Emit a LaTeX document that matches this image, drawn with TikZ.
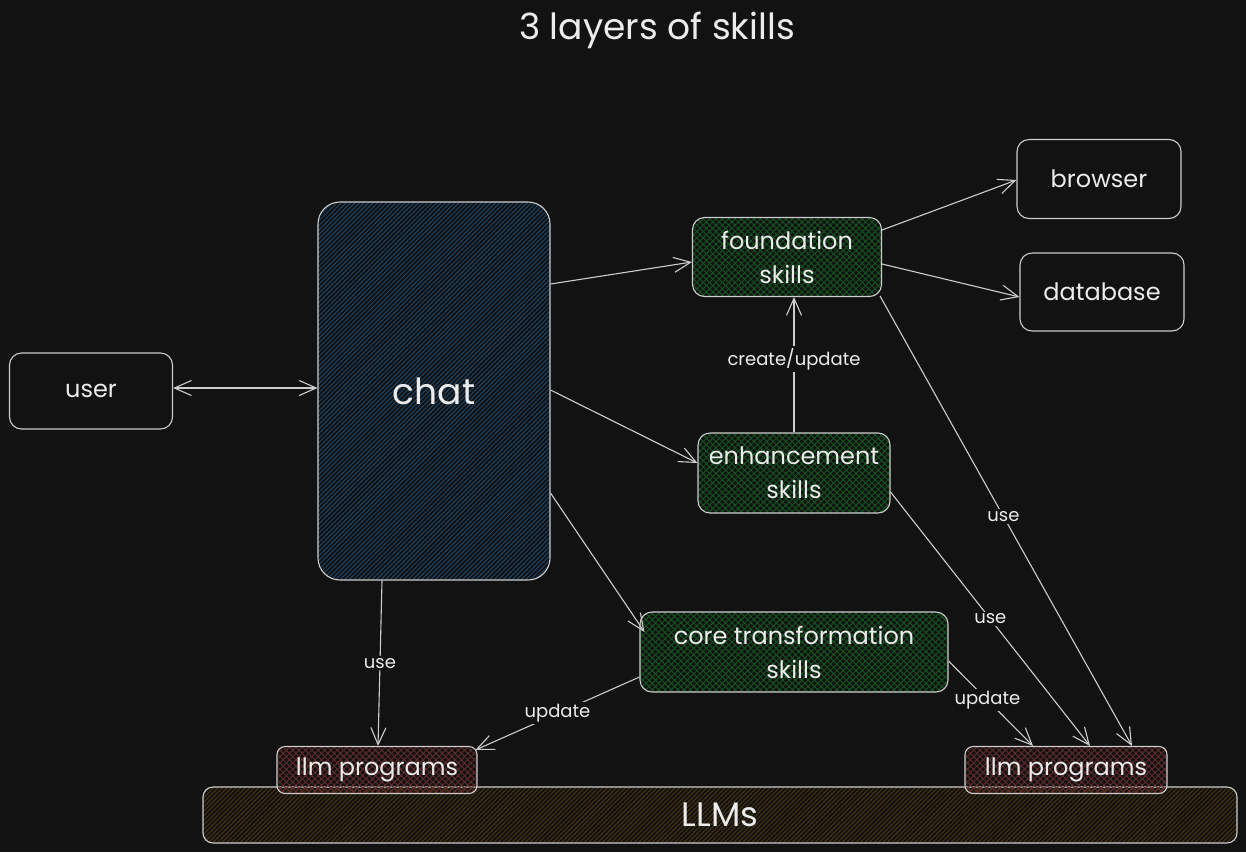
\documentclass[tikz,border=0pt]{standalone}
\usepackage{fontspec}
\setmainfont{Poppins}
\usetikzlibrary{arrows.meta,patterns.meta}
\definecolor{bg}{HTML}{121212}
\definecolor{stroke}{HTML}{CDCDCD}
\definecolor{txt}{HTML}{ECECEC}
\definecolor{chatc}{HTML}{1C4466}
\definecolor{greenc}{HTML}{14521F}
\definecolor{redc}{HTML}{5E2A2A}
\definecolor{brownc}{HTML}{44320E}
\tikzset{
  box/.style={draw=stroke, line width=1.1pt, rounded corners=12pt, text=txt, align=center, inner sep=0pt, font=\fontsize{24}{34}\selectfont},
  hatchone/.style={pattern={Lines[angle=45,distance=3.2pt,line width=1pt]}, pattern color=#1},
  hatchtwo/.style={pattern={Hatch[angle=45,distance=4.5pt,line width=1pt]}, pattern color=#1},
  conn/.style={draw=stroke, line width=1.1pt, -{Straight Barb[length=17pt,width=15pt]}},
  lbl/.style={fill=bg, text=txt, font=\fontsize{18}{20}\selectfont, inner sep=2pt},
}
\begin{document}
\begin{tikzpicture}[x=1pt,y=-1pt]
\fill[bg] (0,0) rectangle (1246,852);
\useasboundingbox (0,0) rectangle (1246,852);
\node[text=txt, font=\fontsize{36}{40}\selectfont] (title) at (657,30) {3 layers of skills};
% nodes
\node[box, minimum width=163pt, minimum height=76pt] (user) at (91,391) {user};
\node[box, hatchone=chatc, rounded corners=22pt, minimum width=232pt, minimum height=378pt, font=\fontsize{36}{40}\selectfont] (chat) at (434,391) {chat};
\node[box, hatchtwo=greenc, minimum width=189pt, minimum height=79pt] (found) at (787,257) {foundation\\skills};
\node[box, minimum width=164pt, minimum height=79pt] (browser) at (1099,179) {browser};
\node[box, minimum width=164pt, minimum height=78pt] (database) at (1102,292) {database};
\node[box, hatchtwo=greenc, minimum width=192pt, minimum height=80pt] (enh) at (794,473) {enhancement\\skills};
\node[box, hatchtwo=greenc, minimum width=308pt, minimum height=80pt] (core) at (794,652) {core transformation\\skills};
\node[box, hatchone=brownc, rounded corners=10pt, minimum width=1034pt, minimum height=56pt, font=\fontsize{34}{38}\selectfont] (llms) at (720,815) {LLMs};
\node[box, hatchtwo=redc, rounded corners=8pt, minimum width=200pt, minimum height=47pt] (llmL) at (377,770) {llm programs};
\node[box, hatchtwo=redc, rounded corners=8pt, minimum width=202pt, minimum height=47pt] (llmR) at (1066,770) {llm programs};
% connectors
\draw[conn, {Straight Barb[length=17pt,width=15pt]}-{Straight Barb[length=17pt,width=15pt]}] ([yshift=3pt]user.east) -- ([yshift=3pt]chat.west);
\draw[conn] ([yshift=107pt]chat.east) -- ([yshift=-5pt]found.west);
\draw[conn] ([yshift=1pt]chat.east) -- ([yshift=10pt]enh.west);
\draw[conn] ([yshift=-102pt]chat.east) -- ([xshift=5pt,yshift=20pt]core.west);
\draw[conn] ([xshift=-52pt]chat.south) -- node[lbl, pos=0.5]{use} ([xshift=1pt]llmL.north);
\draw[conn] (enh.north) -- node[lbl, pos=0.54]{create/update} ([xshift=7pt]found.south);
\draw[conn] ([yshift=27pt]found.east) -- ([yshift=-1pt]browser.west);
\draw[conn] ([yshift=-7pt]found.east) -- ([yshift=-5pt]database.west);
\draw[conn] ([xshift=-2pt,yshift=1pt]found.south east) -- node[lbl, pos=0.49]{use} ([xshift=66pt]llmR.north);
\draw[conn] ([yshift=-19pt]enh.east) -- node[lbl, pos=0.5]{use} ([xshift=24pt]llmR.north);
\draw[conn] ([yshift=-25pt]core.west) -- node[lbl, pos=0.5]{update} ([xshift=-2pt,yshift=-4pt]llmL.north east);
\draw[conn] ([yshift=-9pt]core.east) -- node[lbl, pos=0.46]{update} ([xshift=-33pt]llmR.north);
\end{tikzpicture}
\end{document}
